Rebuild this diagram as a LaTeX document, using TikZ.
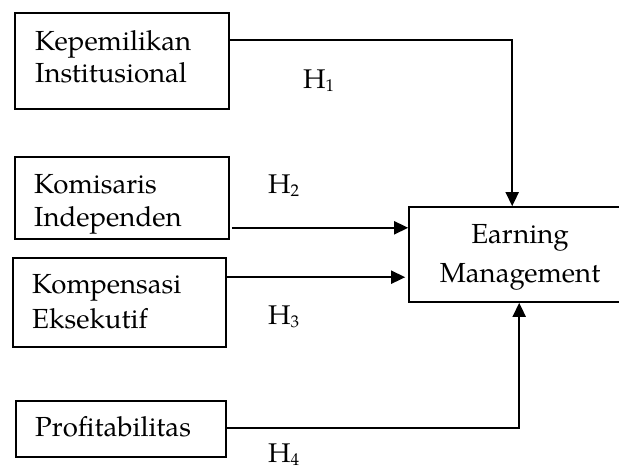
\documentclass[tikz,border=0pt]{standalone}
\usepackage{fontspec}
\setmainfont{texgyrepagella-regular.otf}
\usetikzlibrary{arrows.meta,calc}
\tikzset{
  box/.style={draw, line width=1.6pt, inner sep=0pt},
  lbl/.style={inner sep=0pt, anchor=base west, font=\fontsize{27.6}{32}\selectfont},
  lblc/.style={inner sep=0pt, anchor=base, font=\fontsize{27.6}{32}\selectfont},
  hyp/.style={inner sep=0pt, anchor=base west, font=\fontsize{27}{32}\selectfont},
  ln/.style={line width=1.8pt},
  arr/.style={line width=1.8pt, -{Triangle[length=14pt,width=13pt]}}
}
\newcommand{\hsub}[1]{H\raisebox{-3pt}{\fontsize{17}{17}\selectfont #1}}
\begin{document}
\begin{tikzpicture}[x=1pt,y=-1pt]
\useasboundingbox (0,0) rectangle (619,466);
% boxes
\node[box, minimum width=214pt, minimum height=96pt] (b1) at (122,61) {};
\node[box, minimum width=214pt, minimum height=82pt] (b2) at (122,198) {};
\node[box, minimum width=213pt, minimum height=89pt] (b3) at (119.5,302.5) {};
\node[box, minimum width=210pt, minimum height=56pt] (b4) at (121,429) {};
\node[box, minimum width=211pt, minimum height=95pt] (em) at (514.5,254.5) {};
% box texts
\node[lbl] (t1a) at (35,50) {Kepemilikan};
\node[lbl] (t1b) at (35,82) {Institusional};
\node[lbl] (t2a) at (34,193) {Komisaris};
\node[lbl] (t2b) at (34,226) {Independen};
\node[lbl] (t3a) at (32,293) {Kompensasi};
\node[lbl] (t3b) at (32,328) {Eksekutif};
\node[lbl] (t4) at (35,436) {Profitabilitas};
\node[lblc] (tea) at (520,243) {Earning};
\node[lblc] (teb) at (520,282) {Management};
% hypotheses
\node[hyp] (h1) at (303,88) {\hsub{1}};
\node[hyp] (h2) at (268,193) {\hsub{2}};
\node[hyp] (h3) at (268,324) {\hsub{3}};
\node[hyp] (h4) at (268,462) {\hsub{4}};
% connectors
\coordinate (s1) at ($(b1.north east)+(0,28)$);
\coordinate (e1) at ($(em.north west)+(104,0)$);
\draw[arr] (s1) -| (e1);
\coordinate (s2) at ($(b2.south east)+(2,-12)$);
\draw[arr] (s2) -- (s2 -| em.west);
\coordinate (s3) at ($(b3.north east)+(0,20)$);
\draw[arr, shorten >=3pt] (s3) -- (s3 -| em.west);
\coordinate (s4) at ($(b4.east)+(0,-1)$);
\coordinate (e4) at ($(em.south west)+(111,0)$);
\draw[arr] (s4) -| (e4);
\end{tikzpicture}
\end{document}
